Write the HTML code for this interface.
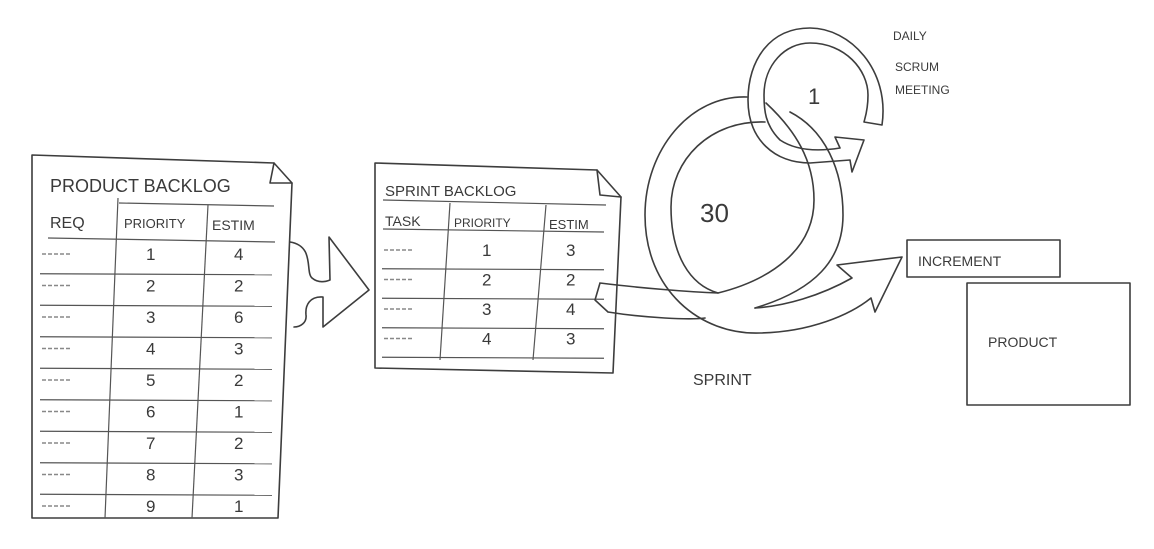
<!DOCTYPE html>
<html><head><meta charset="utf-8">
<style>
html,body{margin:0;padding:0;background:#fff;}
svg{display:block;}
text{font-family:"Liberation Sans",sans-serif;fill:#3a3a3a;}
.s{fill:none;stroke:#3d3d3d;stroke-width:1.6;stroke-linejoin:round;stroke-linecap:round;}
.t{stroke:#555;stroke-width:1.2;fill:none;}
</style></head>
<body>
<svg id="svg" width="1154" height="549" viewBox="0 0 1154 549">
<rect width="1154" height="549" fill="#fff"/>
<g>
  <path class="s" d="M32,155 L274,163 L292,183 L278,518 L32,518 Z"/>
  <path class="s" d="M274,163 L270,183 L292,183"/>
  <text x="50" y="192" font-size="18">PRODUCT BACKLOG</text>
  <line class="t" x1="119" y1="203" x2="274" y2="206"/>
  <line class="t" x1="118" y1="198" x2="105" y2="518"/>
  <line class="t" x1="208" y1="205" x2="192" y2="518"/>
  <text x="50" y="228" font-size="16">REQ</text>
  <text x="124" y="228" font-size="13">PRIORITY</text>
  <text x="212" y="230" font-size="14">ESTIM</text>
  <line class="t" x1="48" y1="238" x2="275" y2="242"/>
  <g id="pbRows"></g>
</g>
<path class="s" d="M290,242 C315,246 305,272 312,278 C318,283 325,282 330,280 L329,237 L369,290 L323,327 L323,297 C310,296 305,305 306,315 C307,323 300,327 294,327"/>
<g>
  <path class="s" d="M375,163 L597,170 L621,197 L613,373 L375,368 Z"/>
  <path class="s" d="M597,170 L600,195 L621,197"/>
  <text x="385" y="196" font-size="15">SPRINT BACKLOG</text>
  <line class="t" x1="383" y1="200" x2="606" y2="205"/>
  <line class="t" x1="450" y1="203" x2="440" y2="360"/>
  <line class="t" x1="546" y1="205" x2="533" y2="360"/>
  <text x="385" y="226" font-size="14">TASK</text>
  <text x="454" y="227" font-size="12">PRIORITY</text>
  <text x="549" y="229" font-size="13">ESTIM</text>
  <line class="t" x1="383" y1="229" x2="604" y2="232"/>
  <g id="sbRows"></g>
</g>
<g>
  <path class="s" d="M747,97 C690,95 645,150 645,215 C645,290 700,335 760,333 C810,332 850,315 871,298 L875,312 L902,257 L837,265 L852,278 C820,296 785,306 755,308"/>
  <path class="s" d="M765,122 C710,120 671,160 671,207 C671,255 690,285 718,293 C770,280 814,250 814,200 C814,160 795,130 766,103"/>
  <path class="s" d="M755,308 C815,290 843,260 843,215 C843,170 825,130 790,112"/>
  <path class="s" d="M600,283 C640,288 690,292 718,293 M608,312 C645,318 690,320 705,318 M600,283 L595,300 L608,312"/>
  <text x="700" y="222" font-size="26">30</text>
  <text x="693" y="385" font-size="16">SPRINT</text>
</g>
<g>
  <path class="s" d="M882,125 C890,70 850,28 810,28 C770,28 748,60 748,100 C748,140 775,163 810,163 L850,160 L852,172 L864,140 L835,137 L840,148 C815,152 795,150 780,140 C765,125 764,110 764,95 C764,65 785,43 810,43 C845,43 868,70 868,95 C868,110 865,118 864,122 Z"/>
  <text x="808" y="104" font-size="22">1</text>
  <text x="893" y="40" font-size="12">DAILY</text>
  <text x="895" y="71" font-size="12">SCRUM</text>
  <text x="895" y="94" font-size="12">MEETING</text>
</g>
<rect class="s" x="907" y="240" width="153" height="37"/>
<text x="918" y="266" font-size="14">INCREMENT</text>
<rect class="s" x="967" y="283" width="163" height="122"/>
<text x="988" y="347" font-size="14">PRODUCT</text>
</svg>
<script>
const pbPriority=[1,2,3,4,5,6,7,8,9];
const pbEstim=[4,2,6,3,2,1,2,3,1];
const sbPriority=[1,2,3,4];
const sbEstim=[3,2,4,3];
const NS='http://www.w3.org/2000/svg';
function rows(gid,pri,est,y0,dy,px,ex,lx0,lx1,sx,fs,lastLine){
  const g=document.getElementById(gid);
  pri.forEach((p,i)=>{
    const y=y0+i*dy;
    const scrib=document.createElementNS(NS,'line');
    scrib.setAttribute('x1',sx);scrib.setAttribute('x2',sx+30);
    scrib.setAttribute('y1',y-4);scrib.setAttribute('y2',y-4);
    scrib.setAttribute('stroke','#888');scrib.setAttribute('stroke-width','1.5');scrib.setAttribute('stroke-dasharray','4 2');
    
    
    g.appendChild(scrib);
    const a=document.createElementNS(NS,'text');
    a.setAttribute('x',px);a.setAttribute('y',y+2);a.setAttribute('font-size',fs);a.textContent=p;
    
    
    g.appendChild(a);
    const b=document.createElementNS(NS,'text');
    b.setAttribute('x',ex);b.setAttribute('y',y+2);b.setAttribute('font-size',fs);b.textContent=est[i];
    
    
    g.appendChild(b);
    if(i<pri.length-1||lastLine){
      const l=document.createElementNS(NS,'line');
      l.setAttribute('class','t');
      l.setAttribute('x1',lx0);l.setAttribute('x2',lx1);
      l.setAttribute('y1',y+dy/2);l.setAttribute('y2',y+dy/2+1);
      
      
      g.appendChild(l);
    }
  });
}
rows('pbRows',pbPriority,pbEstim,258,31.5,146,234,40,272,42,17,false);
rows('sbRows',sbPriority,sbEstim,254,29.5,482,566,382,604,384,17,true);
</script>
</body></html>
